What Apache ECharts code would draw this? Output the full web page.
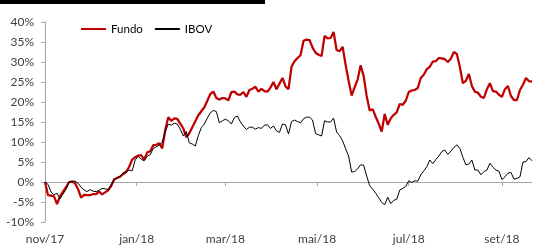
<!DOCTYPE html>
<html>
<head>
<meta charset="utf-8">
<script src="https://cdn.jsdelivr.net/npm/echarts@6/dist/echarts.min.js"></script>
<style>
  html, body { margin: 0; padding: 0; background: #fff; }
  #chart { width: 533px; height: 246px; }
</style>
</head>
<body>
<div id="chart"></div>
<script>
// one point every 2 calendar days, starting 01/nov/17
const STEP_DAYS = 2
const tickLabels = ['nov/17', 'jan/18', 'mar/18', 'mai/18', 'jul/18', 'set/18']
const tickDays = [0, 61, 120, 181, 242, 304]

// retorno acumulado (%)
const fundo = [
  0, -3.3, -3.4, -3.6, -5.5, -3.6, -2.4, -1.3, 0, 0.1,
  -0.3, -1.8, -3.9, -3.2, -3.3, -3.3, -3.0, -3.0, -2.4, -3.1,
  -2.6, -2.1, -1.0, 0.7, 1.0, 1.3, 2.0, 2.5, 3.8, 5.6,
  6.2, 6.6, 6.7, 5.6, 7.4, 7.7, 9.2, 9.3, 9.7, 8.4,
  13.0, 16.2, 15.3, 15.9, 15.8, 14.6, 13.4, 11.2, 12.2, 13.7,
  15.2, 16.7, 17.7, 18.7, 20.3, 22.0, 22.6, 21.0, 20.6, 21.0,
  20.9, 20.4, 22.5, 22.6, 21.9, 21.8, 22.5, 21.3, 23.0, 23.3,
  23.8, 22.6, 23.3, 22.7, 22.6, 23.6, 25.0, 23.2, 24.6, 26.0,
  23.9, 23.2, 28.8, 30.2, 31.0, 31.7, 35.3, 35.6, 35.5, 33.6,
  32.3, 31.8, 31.5, 36.5, 35.9, 36.0, 37.5, 33.0, 32.7, 33.8,
  29.3, 25.3, 21.6, 23.7, 25.6, 29.2, 26.5, 21.5, 17.9, 18.2,
  16.3, 14.6, 12.6, 17.0, 14.3, 15.9, 16.8, 17.4, 19.5, 19.3,
  20.3, 22.5, 22.9, 23.0, 23.5, 26.0, 26.8, 28.2, 28.8, 30.1,
  30.2, 31.0, 30.9, 30.7, 30.0, 30.8, 32.5, 32.0, 28.8, 24.7,
  25.3, 27.0, 24.0, 22.6, 22.3, 21.3, 21.0, 23.2, 24.7, 22.7,
  22.6, 21.8, 21.3, 23.2, 24.0, 21.5, 20.5, 20.5, 23.0, 24.3,
  26.0, 25.2, 25.1
]
const ibov = [
  0, -0.6, -2.5, -3.2, -2.8, -4.2, -3.0, -1.8, -0.1, 0.2,
  0.2, -0.3, -1.3, -2.0, -2.4, -1.9, -2.3, -2.4, -2.1, -1.6,
  -1.7, -1.9, -0.7, 0.4, 1.1, 1.5, 2.3, 2.6, 3.0, 2.8,
  5.5, 6.4, 5.7, 5.3, 6.5, 6.8, 8.4, 8.8, 9.2, 10.0,
  12.6, 14.5, 14.2, 14.7, 14.5, 13.2, 11.5, 12.6, 9.8, 9.5,
  9.0, 11.6, 13.6, 14.5, 16.0, 17.3, 17.9, 17.6, 14.8, 15.3,
  15.7, 15.3, 14.5, 16.1, 16.5, 15.0, 14.0, 13.1, 13.7, 13.7,
  13.2, 13.6, 13.4, 14.2, 14.3, 13.4, 14.0, 12.8, 12.4, 14.5,
  14.3, 12.0, 15.1, 15.5, 15.1, 14.8, 15.8, 16.2, 16.2, 15.5,
  12.1, 11.8, 11.5, 15.3, 15.0, 15.0, 16.0, 12.5, 11.6, 10.3,
  8.3, 6.5, 2.5, 2.6, 3.3, 4.3, 4.2, 1.5, -0.9, -1.8,
  -2.8, -3.9, -5.1, -5.7, -3.8, -5.4, -4.6, -4.3, -2.0, -1.6,
  -1.1, 0.3, -0.1, 0.3, 0.2, 1.8, 2.8, 3.8, 5.5, 4.6,
  5.6, 6.5, 7.6, 8.0, 6.9, 7.7, 8.6, 9.3, 8.4, 6.2,
  4.3, 4.5, 5.5, 3.0, 3.0, 1.8, 2.6, 3.0, 4.7, 3.7,
  3.0, 2.7, 0.6, 1.3, 2.2, 2.4, 0.7, 0.9, 1.3, 5.0,
  5.1, 6.1, 5.3
]

const lastDay = (fundo.length - 1) * STEP_DAYS
const axisGray = '#a6a6a6'
const textColor = '#404040'
const font = 'Lato'

const myChart = echarts.init(document.getElementById('chart'), null, { renderer: 'canvas' })

const option = {
    animation: false,
    textStyle: { fontFamily: font },
    grid: {
        top: 22,
        left: 45,
        right: 1,
        bottom: 24
    },
    legend: {
        left: 76,
        top: 18,
        itemWidth: 25,
        itemHeight: 2,
        itemGap: 12,
        icon: 'rect',
        textStyle: { color: '#000', fontSize: 11.5, fontFamily: font },
        data: ['Fundo', 'IBOV']
    },
    // barra do título (cortada no topo)
    graphic: [
        {
            type: 'text',
            left: 2,
            top: -7,
            z: 1,
            style: {
                text: 'Rentabilidade acumulada (base 0) (em %, ago/18)',
                fill: '#777',
                font: 'bold 11px Lato'
            }
        },
        {
            type: 'rect',
            z: 2,
            shape: { x: 0, y: 0, width: 265, height: 4 },
            style: { fill: '#000' }
        }
    ],
    xAxis: [
        {
            // eixo no zero, só com as marcas
            type: 'value',
            min: 0,
            max: lastDay,
            axisLine: {
                show: true,
                onZero: true,
                lineStyle: { color: axisGray, width: 1 }
            },
            axisTick: {
                show: true,
                inside: false,
                length: 4,
                customValues: tickDays.slice(1),
                lineStyle: { color: axisGray }
            },
            axisLabel: { show: false },
            splitLine: { show: false }
        },
        {
            // rótulos embaixo
            type: 'value',
            min: 0,
            max: lastDay,
            position: 'bottom',
            axisLine: { show: false, onZero: false },
            axisTick: { show: false },
            axisLabel: {
                show: true,
                margin: 11,
                color: textColor,
                fontSize: 12,
                fontFamily: font,
                customValues: tickDays,
                formatter: (v) => tickLabels[tickDays.indexOf(v)] || ''
            },
            splitLine: { show: false }
        }
    ],
    yAxis: {
        type: 'value',
        min: -10,
        max: 40,
        interval: 5,
        axisLine: {
            show: true,
            onZero: false,
            lineStyle: { color: axisGray, width: 1 }
        },
        axisTick: {
            show: true,
            length: 4,
            lineStyle: { color: axisGray }
        },
        axisLabel: {
            margin: 11,
            color: textColor,
            fontSize: 12,
            fontFamily: font,
            formatter: (v) => v + '%'
        },
        splitLine: { show: false }
    },
    series: [
        {
            name: 'Fundo',
            type: 'line',
            xAxisIndex: 0,
            symbol: 'none',
            data: fundo.map((v, i) => [i * STEP_DAYS, v]),
            lineStyle: { color: '#c00000', width: 2.25 },
            itemStyle: { color: '#c00000' }
        },
        {
            name: 'IBOV',
            type: 'line',
            xAxisIndex: 0,
            symbol: 'none',
            data: ibov.map((v, i) => [i * STEP_DAYS, v]),
            lineStyle: { color: '#000', width: 1 },
            itemStyle: { color: '#000' }
        }
    ]
}

myChart.setOption(option)
</script>
</body>
</html>
